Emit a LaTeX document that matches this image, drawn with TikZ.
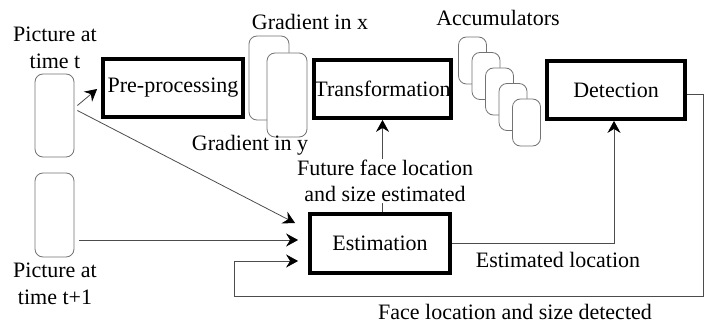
\documentclass[tikz,border=0pt]{standalone}
\usepackage{fontspec}
\setmainfont{Liberation Serif}
\usetikzlibrary{arrows.meta}
\begin{document}
\begin{tikzpicture}[x=1pt,y=-1pt,
  every node/.style={font=\fontsize{22}{26.4}\selectfont},
  procbox/.style={draw=black, line width=3.8pt, inner sep=0pt, minimum width=140pt, minimum height=58pt},
  frame/.style={draw=black!55, line width=0.8pt, rounded corners=8pt, fill=white, inner sep=0pt},
  conn/.style={draw=black!70, line width=0.8pt, -{Stealth[length=12pt,width=13pt,inset=4pt,black]}},
  lbl/.style={align=center, inner sep=1pt}]
\useasboundingbox (0,0) rectangle (711,326);

% picture frames
\node[frame, minimum width=39pt, minimum height=83pt] (picT) at (54.5,115.5) {};
\node[frame, minimum width=39pt, minimum height=84pt] (picTa) at (54.5,215) {};
\node[lbl] (lpicT) at (55,48) {Picture at\\time t};
\node[lbl] (lpicTa) at (55,284) {Picture at\\time t+1};

% gradient frames
\node[frame, minimum width=40pt, minimum height=84pt] (gx) at (269,78) {};
\node[frame, minimum width=40pt, minimum height=84pt] (gy) at (287,95) {};
\node[lbl] (lgx) at (310,22) {Gradient in x};
\node[lbl] (lgy) at (250,145) {Gradient in y};

% accumulators
\foreach \i in {0,...,4} {
  \node[frame, minimum width=28pt, minimum height=47pt] (acc\i) at (472.5+13.5*\i,60.5+15.5*\i) {};
}
\node[lbl] (lacc) at (498,18) {Accumulators};

% main boxes
\node[procbox] (pre) at (173,88) {Pre-processing};
\node[procbox, minimum width=137pt] (trans) at (382.5,89) {Transformation};
\node[procbox, minimum width=138pt] (det) at (616,90) {Detection};
\node[procbox, minimum height=59pt] (est) at (380,243.5) {Estimation};

% connectors
\draw[conn] ([shift={(3,-10)}]picT.east) -- ([shift={(-4,1)}]pre.west);
\draw[conn] ([shift={(3,-5)}]picT.east) -- ([shift={(-13,11)}]est.north west);
\draw[conn] ([shift={(5,25)}]picTa.east) -- ([shift={(-10,-3.5)}]est.west);

\draw[conn] (est.north -| trans.south) -- (trans.south);
\node[lbl, fill=white] (lfut) at (385,181) {Future face location\\and size estimated};

\draw[conn] (est.east) -| ([xshift=-2]det.south);
\node[lbl] (lestloc) at (558,260) {Estimated location};

\coordinate (fbR) at (703,296);
\coordinate (fbL) at (234,296);
\draw[conn] ([shift={(0,4)}]det.east) -| (fbR) -- (fbL) |- ([shift={(-10,17.5)}]est.west);
\node[lbl] (lface) at (515,312) {Face location and size detected};
\end{tikzpicture}
\end{document}
